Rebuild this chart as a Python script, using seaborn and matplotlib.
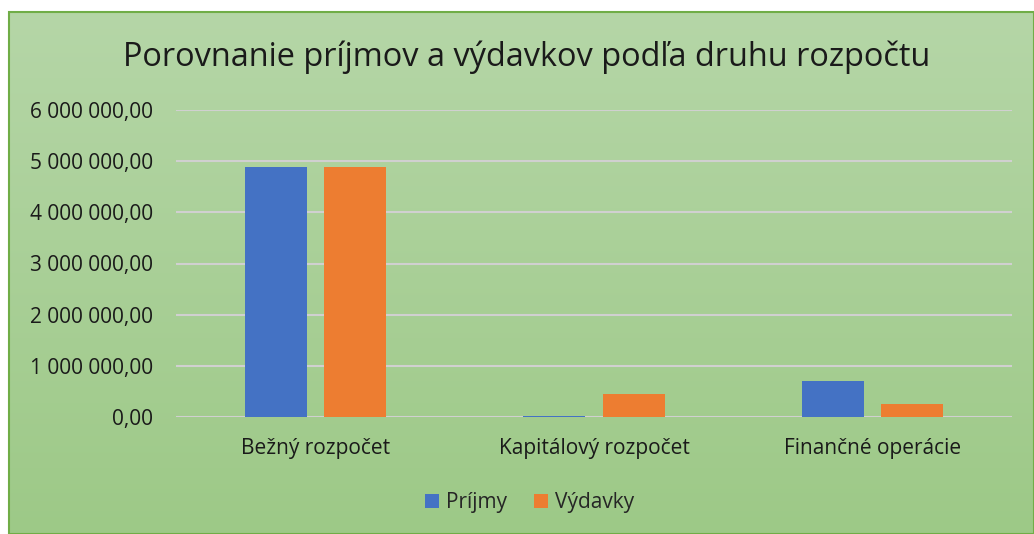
import numpy as np
import pandas as pd
import seaborn as sns
import matplotlib.pyplot as plt
from matplotlib.ticker import FuncFormatter

# Údaje
kategorie = ["Bežný rozpočet", "Kapitálový rozpočet", "Finančné operácie"]
prijmy = [4890000, 12000, 695000]
vydavky = [4890000, 440000, 262000]

df = pd.DataFrame({
    "kategoria": kategorie * 2,
    "hodnota": prijmy + vydavky,
    "druh": ["Príjmy"] * 3 + ["Výdavky"] * 3,
})

sns.set_style("white")
plt.rcParams["font.family"] = ["Open Sans", "DejaVu Sans"]

fig = plt.figure(figsize=(10.34, 5.34), dpi=100)

# Pozadie s prechodom
bg = fig.add_axes([9 / 1034, 0, 1 - 9 / 1034, (534 - 12) / 534])
grad = np.linspace(0, 1, 256).reshape(-1, 1)
top = np.array([181, 214, 167]) / 255
bottom = np.array([157, 201, 135]) / 255
img = top + (bottom - top) * grad[:, :, None]
bg.imshow(img, aspect="auto", extent=[0, 1, 0, 1])
bg.set_axis_off()
bg.add_patch(plt.Rectangle((0, 0), 1, 1, transform=bg.transAxes, fill=False,
                           edgecolor="#70ad47", linewidth=1.5, clip_on=False))

ax = fig.add_axes([176 / 1034, (534 - 417) / 534, (1012 - 176) / 1034, (417 - 110) / 534])
ax.set_facecolor("none")
sns.barplot(data=df, x="kategoria", y="hodnota", hue="druh",
            palette=["#4472c4", "#ed7d31"], saturation=1, width=0.57, gap=0.22,
            linewidth=0, ax=ax, zorder=3)
ax.set_ylim(0, 6000000)
ax.set_yticks(np.arange(0, 6000001, 1000000))
ax.yaxis.set_major_formatter(FuncFormatter(
    lambda v, p: f"{v:,.2f}".replace(",", " ").replace(".", ",")))
ax.grid(axis="y", color="#d0d0d0", linewidth=1.5, zorder=0)
ax.set_axisbelow(True)
for s in ax.spines.values():
    s.set_visible(False)
ax.tick_params(axis="both", length=0, labelsize=15, colors="#1a1a1a")
ax.tick_params(axis="y", pad=16.5)
ax.tick_params(axis="x", pad=15)
ax.set_xlabel("")
ax.set_ylabel("")

ax.legend(loc="center", bbox_to_anchor=(0.423, -0.28), ncol=2, frameon=False,
          fontsize=15, handlelength=0.65, handleheight=0.65, handletextpad=0.35,
          columnspacing=1.3)

fig.text(0.509, 1 - 57 / 534, "Porovnanie príjmov a výdavkov podľa druhu rozpočtu",
         ha="center", va="center", fontsize=23.4, color="#1a1a1a")

plt.savefig("out.png", dpi=100)
